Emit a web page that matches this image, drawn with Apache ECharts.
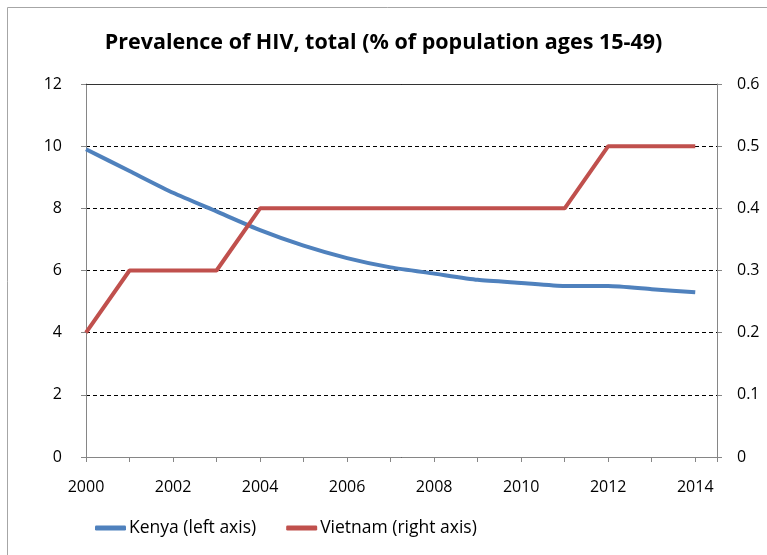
<!DOCTYPE html>
<html><head><meta charset="utf-8">
<script src="https://cdn.jsdelivr.net/npm/echarts@6/dist/echarts.min.js"></script>
<style>html,body{margin:0;padding:0;background:#fff}#c{width:767px;height:555px}</style>
</head><body><div id="c"></div>
<script>
var years = [2000,2001,2002,2003,2004,2005,2006,2007,2008,2009,2010,2011,2012,2013,2014];
var kenya = [9.9,9.2,8.5,7.9,7.3,6.8,6.4,6.1,5.9,5.7,5.6,5.5,5.5,5.4,5.3];
var vietnam = [0.2,0.3,0.3,0.3,0.4,0.4,0.4,0.4,0.4,0.4,0.4,0.4,0.5,0.5,0.5];
var titleText = 'Prevalence of HIV, total (% of population ages 15-49)';
var FONT = 'Open Sans';
var chart = echarts.init(document.getElementById('c'));
chart.setOption({
  animation:false,
  backgroundColor:'#fff',
  textStyle:{fontFamily:FONT},
  title:{text:titleText,left:'center',top:27,textStyle:{fontFamily:FONT,fontWeight:'bold',fontSize:21.5,color:'#000'}},
  graphic:[
    {type:'line',shape:{x1:7.5,y1:7.5,x2:767,y2:7.5},style:{stroke:'#a6a6a6',lineWidth:1}},
    {type:'line',shape:{x1:7.5,y1:7.5,x2:7.5,y2:555},style:{stroke:'#a6a6a6',lineWidth:1}}
  ],
  grid:{left:86,right:50,top:84,bottom:98},
  legend:{bottom:13,left:90,itemGap:30,itemWidth:31,itemHeight:5,icon:'roundRect',
    textStyle:{fontFamily:FONT,fontSize:17.5,color:'#000',padding:[0,0,0,-2]},
    data:['Kenya (left axis)','Vietnam (right axis)']},
  xAxis:[{type:'value',min:2000,max:2014.5,interval:1,
    axisLine:{lineStyle:{color:'#868686'}},
    axisTick:{show:true,length:5,lineStyle:{color:'#868686'}},
    splitLine:{show:false},
    axisLabel:{margin:22,fontSize:16,color:'#000',fontFamily:FONT,
      formatter:function(v){return (v%2===0)?String(v):'';}}},
    {type:'value',position:'top',min:2000,max:2014.5,
     axisLine:{show:true,onZero:false,lineStyle:{color:'#333'}},axisTick:{show:false},axisLabel:{show:false},splitLine:{show:false}}],
  yAxis:[{type:'value',min:0,max:12,interval:2,position:'left',
    axisLine:{show:true,lineStyle:{color:'#868686'}},
    axisTick:{show:true,length:5,lineStyle:{color:'#868686'}},
    splitLine:{show:true,lineStyle:{color:'#000',type:[4,3],width:1}},
    axisLabel:{margin:24,fontSize:16,color:'#000',fontFamily:FONT}},
   {type:'value',min:0,max:0.6,interval:0.1,position:'right',
    axisLine:{show:true,lineStyle:{color:'#868686'}},
    axisTick:{show:true,length:5,lineStyle:{color:'#868686'}},
    splitLine:{show:false},
    axisLabel:{margin:20,fontSize:16,color:'#000',fontFamily:FONT,
      formatter:function(v){return v===0?'0':v.toFixed(1);}}}],
  series:[
    {name:'Kenya (left axis)',type:'line',yAxisIndex:0,showSymbol:false,symbol:'none',
     smooth:0.2,data:years.map(function(y,i){return [y,kenya[i]];}),
     lineStyle:{color:'#4F81BD',width:4},itemStyle:{color:'#4F81BD'}},
    {name:'Vietnam (right axis)',type:'line',yAxisIndex:1,showSymbol:false,symbol:'none',
     data:years.map(function(y,i){return [y,vietnam[i]];}),
     lineStyle:{color:'#C0504D',width:4},itemStyle:{color:'#C0504D'}}
  ]
});
</script></body></html>
